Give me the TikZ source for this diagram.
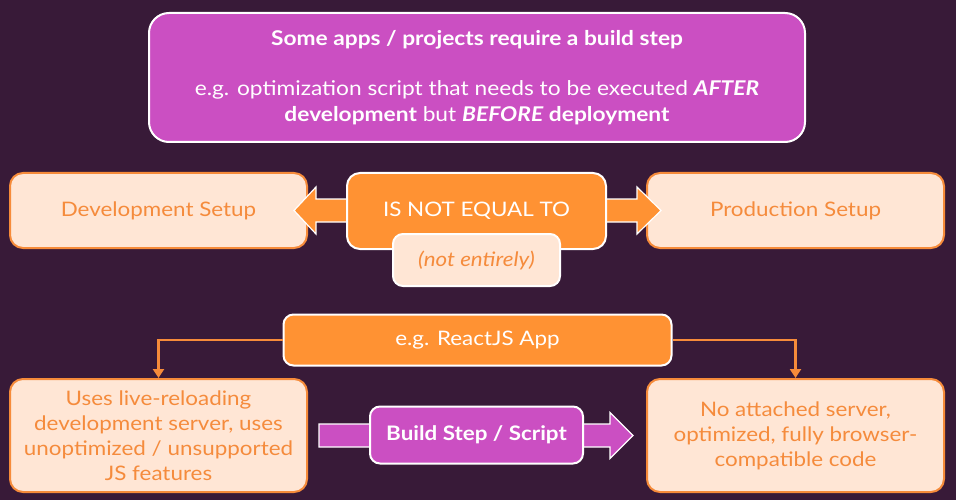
\documentclass[tikz,border=0pt]{standalone}
\usepackage{fontspec}
\setmainfont{Lato}[FakeStretch=1.12]
\usetikzlibrary{calc,arrows.meta}
\definecolor{bg}{HTML}{381A38}
\definecolor{mag}{HTML}{CB4FC2}
\definecolor{org}{HTML}{FF9233}
\definecolor{oedge}{HTML}{F68B3A}
\definecolor{peach}{HTML}{FFE6D5}
\definecolor{otext}{HTML}{F58B3C}
\begin{document}
\begin{tikzpicture}[x=1pt,y=-1pt,
  box/.style={rounded corners=13pt, inner sep=0pt, align=center, font=\fontsize{20}{25}\selectfont},
  magbox/.style={box, fill=mag, draw=white, line width=2pt, text=white},
  orgbox/.style={box, fill=org, draw=white, line width=2pt, text=white},
  peachbox/.style={box, fill=peach, draw=oedge, line width=2pt, text=otext},
  fat/.style={fill=org, draw=white, line width=1.2pt, line join=miter},
  fatmag/.style={fill=mag, draw=white, line width=1.2pt, line join=miter},
  conn/.style={draw=oedge, line width=2.5pt, -{Triangle[length=9pt,width=11pt]}}
]
\fill[bg] (0,0) rectangle (956,500);
\useasboundingbox (0,0) rectangle (956,500);

% top box
\node[magbox, rounded corners=20pt, minimum width=656pt, minimum height=129pt,
      font=\fontsize{20.3}{26}\selectfont] (top) at (477,77.5)
  {\textbf{Some apps / projects require a build step}\\[24pt]
   e.g. optimization script that needs to be executed \textbf{\textit{AFTER}}\\
   \textbf{development} but \textbf{\textit{BEFORE} deployment}};

% row 2
\node[peachbox, minimum width=297pt, minimum height=75pt] (dev) at (158.5,210.5) {Development Setup};
\node[peachbox, minimum width=297pt, minimum height=75pt] (prod) at (795.5,210.5) {Production Setup};

\coordinate (lt) at ($(dev.east)+(-14,0)$);
\coordinate (rt) at ($(prod.west)+(15,0)$);
\path[fat] (lt) -- ++(22,-23.5) -- ++(0,12) -- ++(60,0) -- ++(0,23) -- ++(-60,0) -- ++(0,12) -- cycle;
\path[fat] (rt) -- ++(-24,-23.5) -- ++(0,12) -- ++(-60,0) -- ++(0,23) -- ++(60,0) -- ++(0,12) -- cycle;

\node[orgbox, minimum width=259pt, minimum height=76pt] (neq) at (476.5,211) {IS NOT EQUAL TO};
\node[peachbox, draw=white, rounded corners=10pt, minimum width=167pt, minimum height=52pt] (note) at (476.5,260) {\textit{(not entirely)}};

% row 3
\node[orgbox, rounded corners=10pt, minimum width=388pt, minimum height=51pt] (react) at (477.5,340) {e.g. ReactJS App};
\node[peachbox, minimum width=297pt, minimum height=113pt] (left) at (158.5,435.5)
  {Uses live-reloading\\development server, uses\\unoptimized / unsupported\\JS features};
\node[peachbox, minimum width=297pt, minimum height=113pt] (right) at (795.5,435.5)
  {No attached server,\\optimized, fully browser-\\compatible code};

\draw[conn] (react.west) -| (left.north);
\draw[conn] (react.east) -| (right.north);

\coordinate (bt) at ($(right.west)+(-13,0)$);
\path[fatmag] (bt) -- ++(-23,-23) -- ++(0,11.5) -- ++(-291,0) -- ++(0,23) -- ++(291,0) -- ++(0,11.5) -- cycle;
\node[magbox, rounded corners=10pt, minimum width=213pt, minimum height=57pt] (build) at (476.5,435) {\textbf{Build Step / Script}};
\end{tikzpicture}
\end{document}
